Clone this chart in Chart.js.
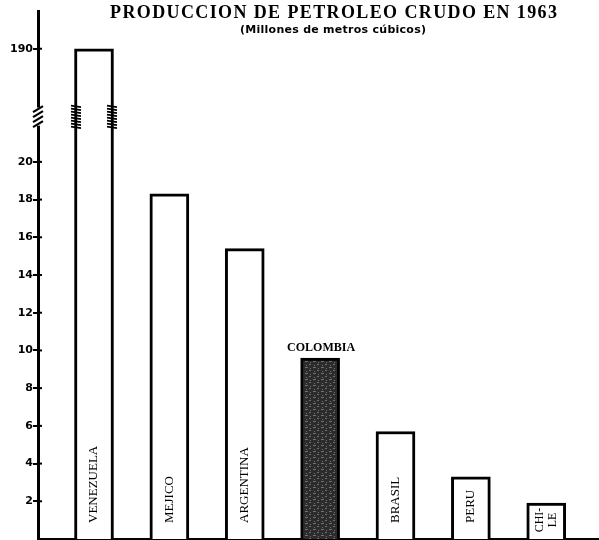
<!DOCTYPE html>
<html>
<head>
<meta charset="utf-8">
<script src="https://cdn.jsdelivr.net/npm/chart.js@4/dist/chart.umd.min.js"></script>
<style>
  html, body { margin: 0; padding: 0; background: #fff; }
  #wrap { width: 599px; height: 540px; position: relative; }
</style>
</head>
<body>
<div id="wrap"><canvas id="petroleoChart" width="599" height="540"></canvas></div>
<script>
// Produccion de petroleo crudo en 1963 (millones de m3)
const countries = ["VENEZUELA", "MEJICO", "ARGENTINA", "COLOMBIA", "BRASIL", "PERU", "CHILE"];
const production = [190, 18.3, 15.4, 9.6, 5.7, 3.3, 1.9];
const barLabels = ["VENEZUELA", "MEJICO", "ARGENTINA", "", "BRASIL", "PERU", ["CHI-", "LE"]];
const tickValues = [2, 4, 6, 8, 10, 12, 14, 16, 18, 20, 190];
const titleText = "PRODUCCION DE PETROLEO CRUDO EN 1963";
const subtitleText = "(Millones de metros cúbicos)";
const highlight = "COLOMBIA";

// broken axis: everything above 20 is squeezed so 190 lands at 26
const BREAK_LOW = 20;
const BREAK_TOP = 190;
const BREAK_SPAN = 6;
const BREAK_MARK = 22.4;
function toAxis(v) {
  if (v <= BREAK_LOW) return v;
  return BREAK_LOW + (v - BREAK_LOW) * BREAK_SPAN / (BREAK_TOP - BREAK_LOW);
}

// dark speckled fill for the highlighted bar
function darkPattern() {
  const c = document.createElement("canvas");
  c.width = 8; c.height = 6;
  const g = c.getContext("2d");
  g.fillStyle = "#2c2c2c";
  g.fillRect(0, 0, 8, 6);
  g.fillStyle = "#6e6e6e";
  g.fillRect(1, 1, 3, 1);
  g.fillRect(5, 4, 2, 1);
  g.fillRect(6, 2, 1, 1);
  g.fillRect(2, 5, 1, 1);
  return g.createPattern(c, "repeat");
}

const canvas = document.getElementById("petroleoChart");
const ctx = canvas.getContext("2d");

const decorations = {
  id: "decorations",
  afterDraw(chart) {
    const c = chart.ctx;
    const area = chart.chartArea;
    const yScale = chart.scales.y;
    const meta = chart.getDatasetMeta(0);
    c.save();
    c.fillStyle = "#000";
    c.strokeStyle = "#000";

    // title
    c.font = 'bold 18px "Liberation Serif"';
    c.textAlign = "left";
    c.textBaseline = "alphabetic";
    let w = c.measureText(titleText).width;
    c.letterSpacing = ((447 - w) / (titleText.length - 1)) + "px";
    c.fillText(titleText, 110, 18);
    c.letterSpacing = "0px";

    c.font = 'bold 11px "DejaVu Sans"';
    w = c.measureText(subtitleText).width;
    c.letterSpacing = ((186 - w) / (subtitleText.length - 1)) + "px";
    c.fillText(subtitleText, 240, 33);
    c.letterSpacing = "0px";

    // tick crosses on the right side of the axis
    c.lineWidth = 2;
    yScale.ticks.forEach(t => {
      const py = yScale.getPixelForValue(t.value);
      c.beginPath();
      c.moveTo(area.left, py);
      c.lineTo(area.left + 4, py);
      c.stroke();
    });

    // axis break
    const by = yScale.getPixelForValue(BREAK_MARK);
    c.fillStyle = "#fff";
    c.fillRect(area.left - 3, by - 9, 6, 18);
    c.fillStyle = "#000";
    c.lineWidth = 2.2;
    for (let k = -1.5; k <= 1.5; k++) {
      const yy = by + k * 5;
      c.beginPath();
      c.moveTo(area.left - 5, yy + 3);
      c.lineTo(area.left + 5, yy - 3);
      c.stroke();
    }

    // spring marks on the broken bar
    const vz = meta.data[0];
    const half = vz.width / 2;
    c.lineWidth = 1.6;
    [vz.x - half + 1.5, vz.x + half - 1.5].forEach(ex => {
      for (let k = 0; k < 8; k++) {
        const yy = by - 11 + k * 3;
        c.beginPath();
        c.moveTo(ex - 5, yy);
        c.lineTo(ex + 5, yy + 1.5);
        c.stroke();
      }
    });

    // labels inside the bars, reading upwards
    c.font = '13px "Liberation Serif"';
    c.textBaseline = "middle";
    meta.data.forEach((bar, i) => {
      const lab = barLabels[i];
      if (!lab) return;
      c.save();
      if (Array.isArray(lab)) {
        c.translate(bar.x, bar.base - 19);
        c.rotate(-Math.PI / 2);
        c.textAlign = "center";
        c.font = '12px "Liberation Serif"';
        lab.forEach((line, j) => {
          c.fillText(line, 0, (j - (lab.length - 1) / 2) * 13);
        });
      } else {
        c.translate(bar.x, bar.base - 16);
        c.rotate(-Math.PI / 2);
        c.textAlign = "left";
        c.fillText(lab, 0, 0);
      }
      c.restore();
    });

    // name above the highlighted bar
    const hi = meta.data[countries.indexOf(highlight)];
    c.font = 'bold 12px "Liberation Serif"';
    c.textAlign = "center";
    c.textBaseline = "alphabetic";
    c.fillText(highlight, hi.x + 1, hi.y - 7);

    c.restore();
  }
};

new Chart(ctx, {
  type: "bar",
  data: {
    labels: countries,
    datasets: [{
      data: production.map((v, i) => ({ x: i + 1, y: toAxis(v) })),
      backgroundColor: countries.map(c => c === highlight ? darkPattern() : "#ffffff"),
      borderColor: "#000000",
      borderWidth: 3,
      barThickness: 39
    }]
  },
  options: {
    responsive: false,
    animation: false,
    devicePixelRatio: 1,
    layout: { padding: { top: 11, bottom: 1, left: 0, right: 0 } },
    plugins: {
      legend: { display: false },
      tooltip: { enabled: false },
      title: { display: false }
    },
    scales: {
      x: {
        type: "linear",
        offset: false,
        min: 0.257,
        max: 7.70,
        afterFit: scale => {
          scale.height = 0;
          scale.paddingLeft = 0;
          scale.paddingRight = 0;
        },
        ticks: { display: false },
        grid: { display: false },
        border: { display: true, color: "#000", width: 2 }
      },
      y: {
        min: 0,
        max: 28,
        afterBuildTicks: scale => {
          scale.ticks = tickValues.map(v => ({ value: toAxis(v) }));
        },
        afterFit: scale => {
          scale.width = 38;
          scale.paddingTop = 0;
          scale.paddingBottom = 0;
        },
        ticks: {
          color: "#000",
          padding: 0,
          font: { family: "DejaVu Sans", size: 11, weight: "bold" },
          callback: value => {
            const i = tickValues.findIndex(v => Math.abs(toAxis(v) - value) < 1e-6);
            return i >= 0 ? String(tickValues[i]) : "";
          }
        },
        grid: { display: true, drawOnChartArea: false, drawTicks: true, tickLength: 5, color: "#000", lineWidth: 2 },
        border: { display: true, color: "#000", width: 3 }
      }
    }
  },
  plugins: [decorations]
});
</script>
</body>
</html>
